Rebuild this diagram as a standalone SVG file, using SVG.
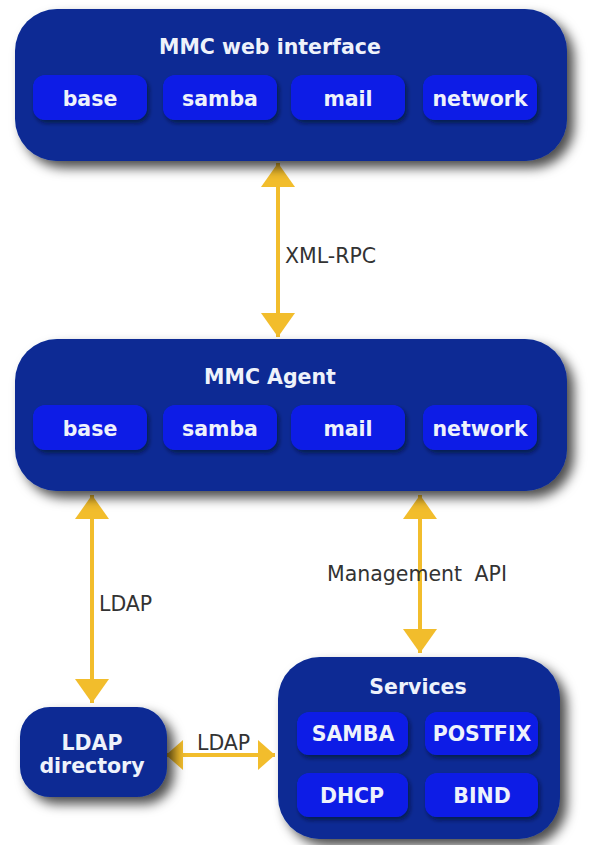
<svg xmlns="http://www.w3.org/2000/svg" width="601" height="845" viewBox="0 0 601 845">
<defs>
<filter id="sh" x="-20%" y="-20%" width="145%" height="160%">
<feDropShadow dx="7" dy="7" stdDeviation="6" flood-color="#000" flood-opacity="0.7"/>
</filter>
<filter id="sh2" x="-20%" y="-30%" width="140%" height="160%">
<feDropShadow dx="2" dy="3" stdDeviation="2" flood-color="#000820" flood-opacity="0.6"/>
</filter>
<marker id="ah" viewBox="0 0 24 34" refX="24" refY="17" markerWidth="24" markerHeight="34" markerUnits="userSpaceOnUse" orient="auto-start-reverse">
<path d="M0,0 L24,17 L0,34 Z" fill="#f2bd2c"/>
</marker>
<marker id="ahs" viewBox="0 0 17 30" refX="17" refY="15" markerWidth="17" markerHeight="30" markerUnits="userSpaceOnUse" orient="auto-start-reverse">
<path d="M0,0 L17,15 L0,30 Z" fill="#f2bd2c"/>
</marker>
</defs>
<style>
.main{fill:#082994;filter:url(#sh);}
.sub{fill:#0b1fe6;filter:url(#sh2);}
.t{font-family:"DejaVu Sans","Liberation Sans",sans-serif;font-weight:bold;font-size:20.5px;fill:#eef2fb;text-anchor:middle;}
.lbl{font-family:"DejaVu Sans","Liberation Sans",sans-serif;font-size:20.5px;fill:#333;}
.arr{stroke:#f2bd2c;stroke-width:4;fill:none;}
</style>
<rect width="601" height="845" fill="#fff"/>

<g id="connectors">
<line class="arr" x1="278" y1="163" x2="278" y2="337" marker-start="url(#ah)" marker-end="url(#ah)"/>
<line class="arr" x1="92" y1="495" x2="92" y2="703" marker-start="url(#ah)" marker-end="url(#ah)"/>
<line class="arr" x1="420" y1="495" x2="420" y2="653" marker-start="url(#ah)" marker-end="url(#ah)"/>
<line class="arr" x1="166" y1="755" x2="275" y2="755" marker-start="url(#ahs)" marker-end="url(#ahs)"/>
<text class="lbl" x="285" y="262.5">XML-RPC</text>
<text class="lbl" x="99" y="610.5">LDAP</text>
<text class="lbl" x="327" y="580.5" word-spacing="6">Management API</text>
<text class="lbl" x="197" y="749.5">LDAP</text>
</g>

<g id="web">
<rect class="main" x="15" y="9" width="552" height="152" rx="42"/>
<text class="t" x="270" y="53.5">MMC web interface</text>
<g id="web-base"><rect class="sub" x="33" y="75" width="114" height="45" rx="12"/><text class="t" x="90" y="106">base</text></g>
<g id="web-samba"><rect class="sub" x="163" y="75" width="114" height="45" rx="12"/><text class="t" x="220" y="106">samba</text></g>
<g id="web-mail"><rect class="sub" x="291" y="75" width="114" height="45" rx="12"/><text class="t" x="348" y="106">mail</text></g>
<g id="web-network"><rect class="sub" x="423" y="75" width="114" height="45" rx="12"/><text class="t" x="480" y="106">network</text></g>
</g>

<g id="agent">
<rect class="main" x="15" y="339" width="552" height="152" rx="42"/>
<text class="t" x="270" y="383.5">MMC Agent</text>
<g id="agent-base"><rect class="sub" x="33" y="405" width="114" height="45" rx="12"/><text class="t" x="90" y="436">base</text></g>
<g id="agent-samba"><rect class="sub" x="163" y="405" width="114" height="45" rx="12"/><text class="t" x="220" y="436">samba</text></g>
<g id="agent-mail"><rect class="sub" x="291" y="405" width="114" height="45" rx="12"/><text class="t" x="348" y="436">mail</text></g>
<g id="agent-network"><rect class="sub" x="423" y="405" width="114" height="45" rx="12"/><text class="t" x="480" y="436">network</text></g>
</g>

<g id="ldapdir">
<rect class="main" x="20" y="707" width="147" height="90" rx="30"/>
<text class="t" x="92" y="749.5">LDAP</text>
<text class="t" x="92" y="773">directory</text>
</g>

<g id="services">
<rect class="main" x="278" y="657" width="282" height="182" rx="42"/>
<text class="t" x="418" y="693.5">Services</text>
<g id="svc-samba"><rect class="sub" x="297" y="712" width="111" height="43" rx="12"/><text class="t" x="353" y="740.5">SAMBA</text></g>
<g id="svc-postfix"><rect class="sub" x="425" y="712" width="113" height="43" rx="12"/><text class="t" x="482" y="740.5">POSTFIX</text></g>
<g id="svc-dhcp"><rect class="sub" x="297" y="773" width="111" height="44" rx="12"/><text class="t" x="352" y="802.5">DHCP</text></g>
<g id="svc-bind"><rect class="sub" x="425" y="773" width="113" height="44" rx="12"/><text class="t" x="482" y="802.5">BIND</text></g>
</g>
</svg>
